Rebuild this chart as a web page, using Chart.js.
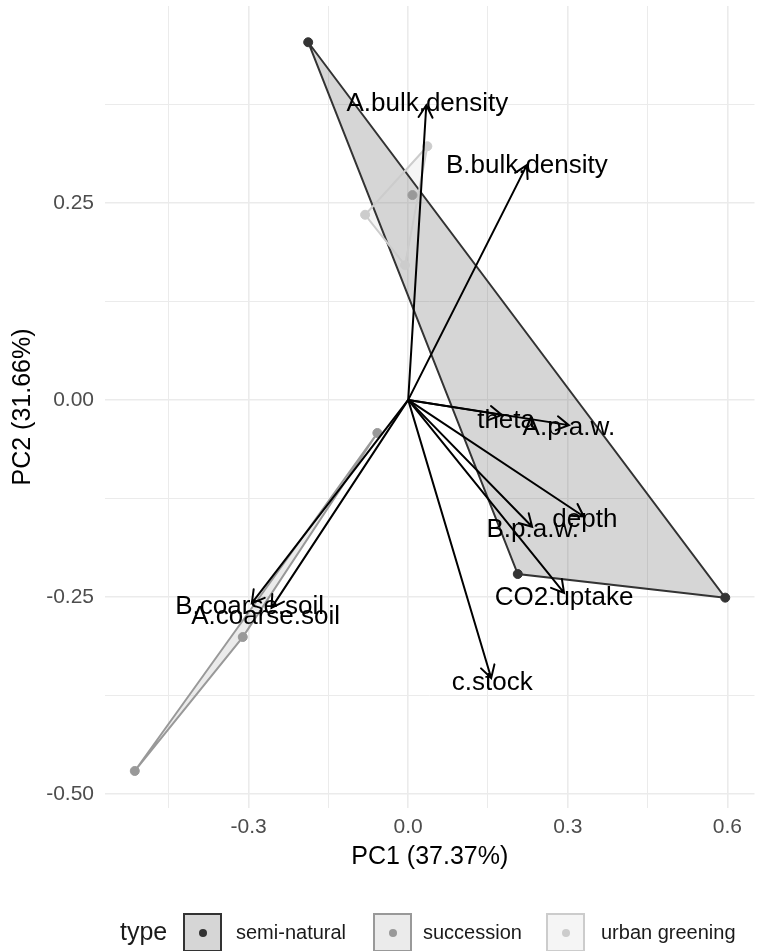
<!DOCTYPE html>
<html>
<head>
<meta charset="utf-8">
<title>PCA biplot</title>
<script src="https://cdn.jsdelivr.net/npm/chart.js@4.4.1/dist/chart.umd.min.js"></script>
<style>
  html, body { margin: 0; padding: 0; background: #fff; }
  #wrap { position: relative; width: 760px; height: 951px; font-family: "Liberation Sans", Arial, sans-serif; }
  #pcaChart { position: absolute; left: 0; top: 0; }
  .lg { position: absolute; color: #1a1a1a; white-space: nowrap; }
  .lg-title { font-size: 25px; top: 913px; height: 38px; line-height: 36px; }
  .lg-text { font-size: 20px; top: 913px; height: 38px; line-height: 38px; }
  .lg-key { position: absolute; top: 913px; width: 35px; height: 35px; border: 2px solid; box-sizing: content-box; }
  .lg-key span { position: absolute; left: 50%; top: 50%; width: 8px; height: 8px; margin: -4px 0 0 -4px; border-radius: 50%; }
</style>
</head>
<body>
<div id="wrap">
  <canvas id="pcaChart" width="760" height="951"></canvas>
  <div id="legend"></div>
</div>
<script>
// groups
const groups = ['semi-natural', 'succession', 'urban greening'];
const groupColors = ['#333333', '#999999', '#cccccc'];
const groupFills = ['rgba(51,51,51,0.2)', 'rgba(153,153,153,0.2)', 'rgba(204,204,204,0.2)'];
const legendLeft = [183, 373, 546];
const legendTextLeft = [236, 423, 601];

// sample scores (PC1, PC2)
const semiNaturalX = [-0.188, 0.206, 0.596];
const semiNaturalY = [0.454, -0.221, -0.251];
const successionX = [-0.058, -0.311, -0.514, 0.008];
const successionY = [-0.042, -0.301, -0.471, 0.260];
const urbanX = [0.036, -0.081, -0.006];
const urbanY = [0.322, 0.235, 0.171];

// hull vertex order per group
const semiNaturalHull = [0, 1, 2];
const successionHull = [0, 1, 2];
const urbanHull = [0, 1, 2];

// variable loadings
const loadingNames = ['A.bulk.density', 'B.bulk.density', 'theta', 'A.p.a.w.', 'depth',
  'B.p.a.w.', 'CO2.uptake', 'c.stock', 'B.coarse.soil', 'A.coarse.soil'];
const loadingX = [0.034, 0.223, 0.176, 0.302, 0.330, 0.233, 0.293, 0.156, -0.294, -0.257];
const loadingY = [0.374, 0.298, -0.019, -0.032, -0.148, -0.161, -0.245, -0.353, -0.258, -0.264];
const labelX = [0.036, 0.223, 0.184, 0.302, 0.332, 0.234, 0.293, 0.158, -0.298, -0.268];
const labelY = [0.376, 0.297, -0.027, -0.036, -0.152, -0.165, -0.251, -0.359, -0.263, -0.275];

// axis ticks
const xMajor = [-0.3, 0, 0.3, 0.6];
const xMinor = [-0.45, -0.15, 0.15, 0.45];
const yMajor = [-0.5, -0.25, 0, 0.25];
const yMinor = [-0.375, -0.125, 0.125, 0.375];

const xTitle = 'PC1 (37.37%)';
const yTitle = 'PC2 (31.66%)';

const FONT = '"Liberation Sans", Arial, sans-serif';

const groupX = [semiNaturalX, successionX, urbanX];
const groupY = [semiNaturalY, successionY, urbanY];
const groupHull = [semiNaturalHull, successionHull, urbanHull];

const toPoints = (xs, ys) => xs.map((x, i) => ({ x: x, y: ys[i] }));
const hullPoints = (g) => {
  const idx = groupHull[g].concat([groupHull[g][0]]);
  return idx.map((i) => ({ x: groupX[g][i], y: groupY[g][i] }));
};
const isIn = (v, list) => list.some((m) => Math.abs(m - v) < 1e-9);

const datasets = [];
groups.forEach((name, g) => {
  datasets.push({
    label: name + ' hull',
    data: hullPoints(g),
    showLine: true,
    borderColor: groupColors[g],
    borderWidth: 2,
    pointRadius: 0,
    fill: false,
    order: 10 - g,
  });
});
groups.forEach((name, g) => {
  datasets.push({
    label: name,
    data: toPoints(groupX[g], groupY[g]),
    backgroundColor: groupColors[g],
    borderColor: groupColors[g],
    pointRadius: 4.5,
    pointHoverRadius: 4.5,
    order: 3 - g,
  });
});

const hullFill = {
  id: 'hullFill',
  beforeDatasetsDraw(chart) {
    const { ctx, chartArea, scales } = chart;
    ctx.save();
    ctx.beginPath();
    ctx.rect(chartArea.left, chartArea.top, chartArea.right - chartArea.left, chartArea.bottom - chartArea.top);
    ctx.clip();
    groups.forEach((name, g) => {
      ctx.beginPath();
      groupHull[g].forEach((i, k) => {
        const px = scales.x.getPixelForValue(groupX[g][i]);
        const py = scales.y.getPixelForValue(groupY[g][i]);
        if (k === 0) ctx.moveTo(px, py); else ctx.lineTo(px, py);
      });
      ctx.closePath();
      ctx.fillStyle = groupFills[g];
      ctx.fill();
    });
    ctx.restore();
  },
};

const loadingArrows = {
  id: 'loadingArrows',
  afterDatasetsDraw(chart) {
    const { ctx, scales } = chart;
    const x0 = scales.x.getPixelForValue(0);
    const y0 = scales.y.getPixelForValue(0);
    ctx.save();
    ctx.strokeStyle = '#000';
    ctx.lineWidth = 2;
    ctx.lineCap = 'round';
    loadingNames.forEach((name, i) => {
      const x1 = scales.x.getPixelForValue(loadingX[i]);
      const y1 = scales.y.getPixelForValue(loadingY[i]);
      const ang = Math.atan2(y1 - y0, x1 - x0);
      const head = 14;
      const spread = Math.PI / 6;
      ctx.beginPath();
      ctx.moveTo(x0, y0);
      ctx.lineTo(x1, y1);
      ctx.moveTo(x1 - head * Math.cos(ang - spread), y1 - head * Math.sin(ang - spread));
      ctx.lineTo(x1, y1);
      ctx.lineTo(x1 - head * Math.cos(ang + spread), y1 - head * Math.sin(ang + spread));
      ctx.stroke();
    });
    ctx.fillStyle = '#000';
    ctx.font = '26px ' + FONT;
    ctx.textAlign = 'center';
    ctx.textBaseline = 'middle';
    loadingNames.forEach((name, i) => {
      ctx.fillText(name, scales.x.getPixelForValue(labelX[i]), scales.y.getPixelForValue(labelY[i]));
    });
    ctx.restore();
  },
};

const gridColor = '#ebebeb';

new Chart(document.getElementById('pcaChart'), {
  type: 'scatter',
  data: { datasets: datasets },
  options: {
    responsive: false,
    animation: false,
    events: [],
    layout: { padding: { left: 0, right: 4, top: 6, bottom: 53 } },
    plugins: {
      legend: { display: false },
      tooltip: { enabled: false },
    },
    scales: {
      x: {
        type: 'linear',
        min: -0.57,
        max: 0.651,
        afterBuildTicks: (scale) => {
          scale.ticks = xMajor.concat(xMinor).sort((a, b) => a - b).map((v) => ({ value: v }));
        },
        afterFit: (scale) => {
          scale.height = 90;
          scale.paddingLeft = 0;
          scale.paddingRight = 0;
        },
        border: { display: false },
        grid: {
          drawTicks: false,
          color: gridColor,
          lineWidth: (c) => (c.tick && isIn(c.tick.value, xMajor) ? 1.6 : 1),
        },
        ticks: {
          autoSkip: false,
          maxRotation: 0,
          padding: 7,
          color: '#4d4d4d',
          font: { family: FONT, size: 21 },
          callback: (v) => (isIn(v, xMajor) ? Number(v).toFixed(1) : ''),
        },
        title: {
          display: true,
          text: xTitle,
          color: '#000',
          font: { family: FONT, size: 25 },
          padding: { top: 0, bottom: 26 },
        },
      },
      y: {
        type: 'linear',
        min: -0.518,
        max: 0.5,
        afterBuildTicks: (scale) => {
          scale.ticks = yMajor.concat(yMinor).sort((a, b) => a - b).map((v) => ({ value: v }));
        },
        afterFit: (scale) => {
          scale.width = 105;
          scale.paddingTop = 0;
          scale.paddingBottom = 0;
        },
        border: { display: false },
        grid: {
          drawTicks: false,
          color: gridColor,
          lineWidth: (c) => (c.tick && isIn(c.tick.value, yMajor) ? 1.6 : 1),
        },
        ticks: {
          autoSkip: false,
          padding: 11,
          color: '#4d4d4d',
          font: { family: FONT, size: 21 },
          callback: (v) => (isIn(v, yMajor) ? Number(v).toFixed(2) : ''),
        },
        title: {
          display: true,
          text: yTitle,
          color: '#000',
          font: { family: FONT, size: 25 },
          padding: { top: 8, bottom: 0 },
        },
      },
    },
  },
  plugins: [hullFill, loadingArrows],
});

// legend
const legendEl = document.getElementById('legend');
const ttl = document.createElement('div');
ttl.className = 'lg lg-title';
ttl.style.left = '120px';
ttl.textContent = 'type';
legendEl.appendChild(ttl);
groups.forEach((name, g) => {
  const key = document.createElement('div');
  key.className = 'lg-key';
  key.style.left = legendLeft[g] + 'px';
  key.style.borderColor = groupColors[g];
  key.style.background = groupFills[g];
  const dot = document.createElement('span');
  dot.style.background = groupColors[g];
  key.appendChild(dot);
  legendEl.appendChild(key);
  const txt = document.createElement('div');
  txt.className = 'lg lg-text';
  txt.style.left = legendTextLeft[g] + 'px';
  txt.textContent = name;
  legendEl.appendChild(txt);
});
</script>
</body>
</html>
